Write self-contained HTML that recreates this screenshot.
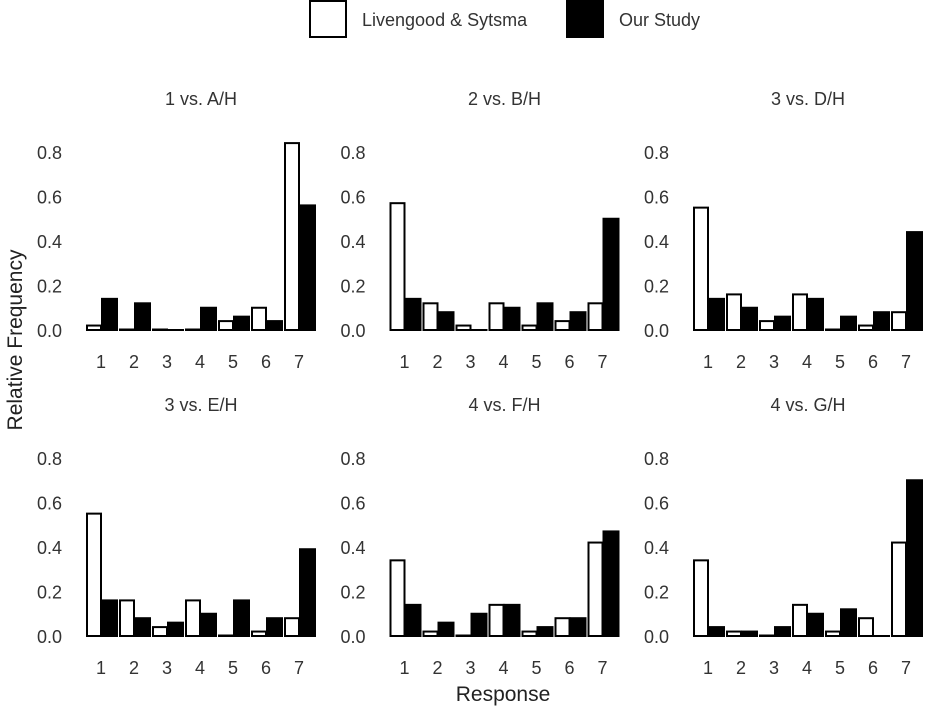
<!DOCTYPE html>
<html><head><meta charset="utf-8"><style>
body{margin:0;background:#fff}
svg{display:block;font-family:"Liberation Sans",sans-serif}
</style></head><body>
<svg id="c" width="933" height="711" viewBox="0 0 933 711">
<g>
<rect x="310" y="1" width="36" height="36" fill="#fff" stroke="#000" stroke-width="2"/>
<text x="362" y="26" font-size="18" fill="#333">Livengood &amp; Sytsma</text>
<rect x="566" y="0" width="38" height="38" fill="#000"/>
<text x="619" y="26" font-size="18" fill="#333">Our Study</text>
</g>
<text transform="translate(22,340) rotate(-90)" text-anchor="middle" font-size="21" fill="#222">Relative Frequency</text>
<text x="503" y="701" text-anchor="middle" font-size="21" fill="#222">Response</text>
</svg>
<script>
const titles=["1 vs. A/H","2 vs. B/H","3 vs. D/H","3 vs. E/H","4 vs. F/H","4 vs. G/H"];
const categories=["1","2","3","4","5","6","7"];
const yTicks=[0,0.2,0.4,0.6,0.8];
const yTickLabels=["0.0","0.2","0.4","0.6","0.8"];
const livengood=[
[0.02,0,0,0,0.04,0.10,0.84],
[0.57,0.12,0.02,0.12,0.02,0.04,0.12],
[0.55,0.16,0.04,0.16,0,0.02,0.08],
[0.55,0.16,0.04,0.16,0,0.02,0.08],
[0.34,0.02,0,0.14,0.02,0.08,0.42],
[0.34,0.02,0,0.14,0.02,0.08,0.42]];
const ourStudy=[
[0.14,0.12,0,0.10,0.06,0.04,0.56],
[0.14,0.08,0,0.10,0.12,0.08,0.50],
[0.14,0.10,0.06,0.14,0.06,0.08,0.44],
[0.16,0.08,0.06,0.10,0.16,0.08,0.39],
[0.14,0.06,0.10,0.14,0.04,0.08,0.47],
[0.04,0.02,0.04,0.10,0.12,0,0.70]];
const svg=document.getElementById('c');
const NS="http://www.w3.org/2000/svg";
function mk(t,a){const e=document.createElementNS(NS,t);for(const k in a)e.setAttribute(k,a[k]);return e;}
titles.forEach((title,p)=>{
  const col=p%3,row=Math.floor(p/3);
  const x0=86+col*303.5, y0=row===0?330:636;
  const ys=v=>y0-v*222.5;
  const xs=i=>x0+i*33;
  const g=mk('g',{});
  
  
  svg.appendChild(g);
  const t=mk('text',{x:x0+115,y:y0-225,'text-anchor':'middle','font-size':18,fill:'#333'});
  
  
  t.textContent=title;g.appendChild(t);
  yTicks.forEach((v,i)=>{
    const l=mk('text',{x:x0-24,y:ys(v)+7,'text-anchor':'end','font-size':18,fill:'#333'});
    
    
    l.textContent=yTickLabels[i];g.appendChild(l);
  });
  categories.forEach((c,i)=>{
    const l=mk('text',{x:xs(i)+15,y:y0+38,'text-anchor':'middle','font-size':18,fill:'#333'});
    
    
    l.textContent=c;g.appendChild(l);
    const w=livengood[p][i];
    const r=mk('rect',{x:xs(i)+1,y:Math.min(ys(w),y0-0.5),width:14,height:Math.max(0.5,y0-ys(w)),fill:'#fff',stroke:'#000','stroke-width':2});
    
    
    g.appendChild(r);
    const b=ourStudy[p][i];
    const r2=mk('rect',{x:xs(i)+15,y:ys(b)-1,width:17,height:Math.max(0,y0-ys(b))+2,fill:'#000'});
    
    
    g.appendChild(r2);
  });
});
</script>
</body></html>
